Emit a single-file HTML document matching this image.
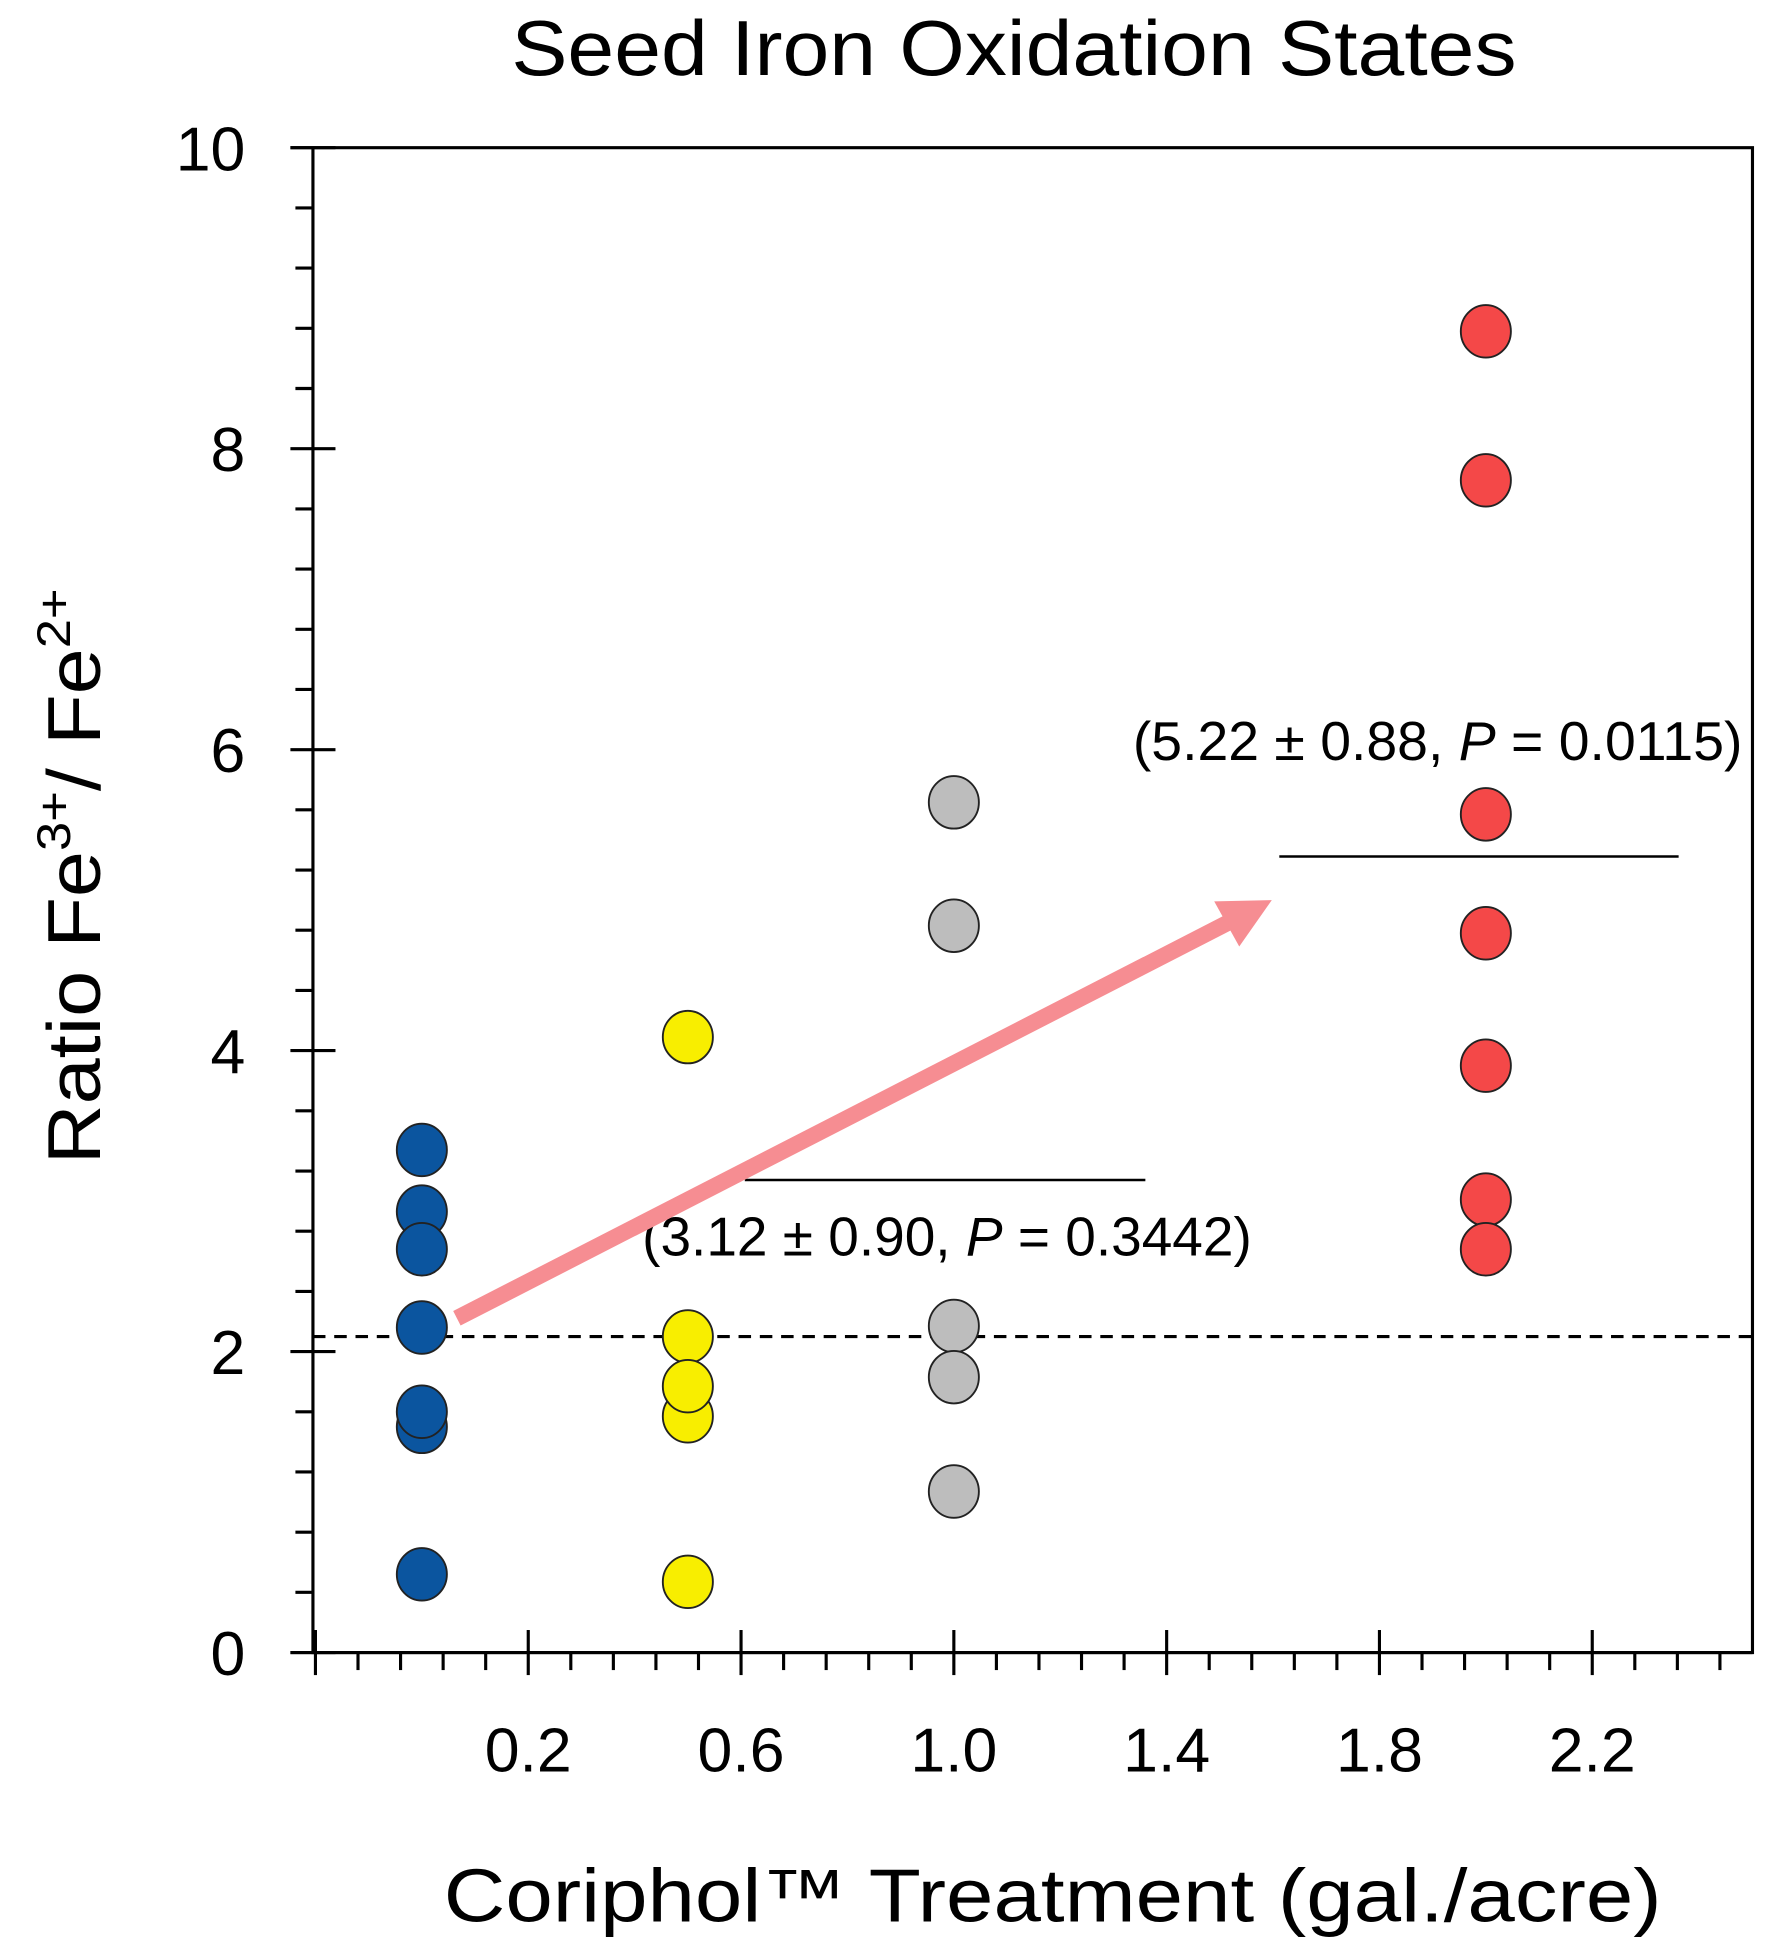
<!DOCTYPE html>
<html><head><meta charset="utf-8"><style>
html,body{margin:0;padding:0;background:#fff;}
svg{display:block;}
text{font-family:"Liberation Sans",sans-serif;fill:#000;}
</style></head><body>
<svg id="chart" width="1770" height="1943" viewBox="0 0 1414 1552" preserveAspectRatio="none" xmlns="http://www.w3.org/2000/svg">
<rect x="0" y="0" width="1414" height="1552" fill="#fff"/>
<text x="810" y="60" font-size="62" text-anchor="middle" textLength="803" lengthAdjust="spacingAndGlyphs">Seed Iron Oxidation States</text>
<g id="axes"></g>
<g id="marks"></g>
<text transform="translate(80,700) rotate(-90)" font-size="60" text-anchor="middle" textLength="460" lengthAdjust="spacingAndGlyphs">Ratio Fe<tspan font-size="38" dy="-24">3+</tspan><tspan dy="24">/ Fe</tspan><tspan font-size="38" dy="-24">2+</tspan></text>
<text x="841" y="1535" font-size="60" text-anchor="middle" textLength="973" lengthAdjust="spacingAndGlyphs">Coriphol™ Treatment (gal./acre)</text>
</svg>
<script>
const groups = ["Control", "0.5", "1.0", "2.0"];
const groupX = [0, 0.5, 1.0, 2.0];
const blueValues = [3.34, 2.93, 2.68, 2.16, 1.50, 1.60, 0.52];
const yellowValues = [4.09, 2.10, 1.57, 1.77, 0.47];
const grayValues = [5.65, 4.83, 2.17, 1.83, 1.07];
const redValues = [8.78, 7.79, 5.57, 4.78, 3.90, 3.01, 2.68];
const baselineValue = 2.10;
const meanLow = 3.14;
const meanHigh = 5.29;
const yTicks = [0, 2, 4, 6, 8, 10];
const xTickValues = [0.2, 0.6, 1.0, 1.4, 1.8, 2.2];
const xTickLabels = ["0.2", "0.6", "1.0", "1.4", "1.8", "2.2"];

const NS = "http://www.w3.org/2000/svg";
const X0 = 337, XS = 425, Y0 = 1320, YS = 120.2;
const L = 250, R = 1400, T = 118;
function sx(v){ return X0 + v * XS; }
function sy(v){ return Y0 - v * YS; }
function mk(tag, attrs, parent){
  const e = document.createElementNS(NS, tag);
  for (const k in attrs) e.setAttribute(k, attrs[k]);
  parent.appendChild(e);
  return e;
}
const axes = document.getElementById("axes");
const marks = document.getElementById("marks");

const frame = mk("path", {d:`M${L-18} ${T} H${R} V${Y0} H${L} V${T}`, fill:"none", stroke:"#000", "stroke-width":2.5}, axes);


const xline = mk("line", {x1:L-18, y1:Y0, x2:R, y2:Y0, stroke:"#000", "stroke-width":2.5}, axes);



for (let i = 0; i <= 25; i++) {
  const v = i * 0.4;
  const y = sy(v);
  const major = Math.abs(v - Math.round(v/2)*2) < 1e-6;
  const t = mk("line", {x1: L - (major ? 18 : 14), y1:y, x2: L + (major ? 18 : 0), y2:y, stroke:"#000", "stroke-width":2.5}, axes);
  
  
}
yTicks.forEach(v => {
  const t = mk("text", {x:196, y:sy(v)+18, "font-size":50, "text-anchor":"end"}, axes);
  t.textContent = String(v);
  
  
});
for (let i = 0; i <= 33; i++) {
  const v = -0.2 + i * 0.08;
  if (v > 2.47) break;
  const x = sx(v);
  const major = i % 5 === 0;
  const t = mk("line", {x1:x, y1: Y0 - (major ? 18 : 0), x2:x, y2: Y0 + (major ? 18 : 14), stroke:"#000", "stroke-width":2.5}, axes);
  
  
}
xTickValues.forEach((v, i) => {
  const t = mk("text", {x:sx(v), y:1415, "font-size":50, "text-anchor":"middle"}, axes);
  t.textContent = xTickLabels[i];
  
  
});

const dash = mk("line", {x1:L, y1:sy(baselineValue), x2:R, y2:sy(baselineValue), stroke:"#000", "stroke-width":2.5, "stroke-dasharray":"10 7"}, marks);



const m1 = mk("line", {x1:595, y1:sy(meanLow), x2:915, y2:sy(meanLow), stroke:"#000", "stroke-width":2}, marks);


const m2 = mk("line", {x1:1022, y1:sy(meanHigh), x2:1341, y2:sy(meanHigh), stroke:"#000", "stroke-width":2}, marks);



function annot(x, y, pre, post, len, name){
  const t = mk("text", {x:x, y:y, "font-size":44, textLength:len, lengthAdjust:"spacingAndGlyphs"}, marks);
  
  
  t.appendChild(document.createTextNode(pre));
  const it = mk("tspan", {"font-style":"italic"}, t);
  it.textContent = "P";
  t.appendChild(document.createTextNode(post));
}
annot(513, 1003, "(3.12 ± 0.90, ", " = 0.3442)", 487, "annotation-1");
annot(905, 607, "(5.22 ± 0.88, ", " = 0.0115)", 487, "annotation-2");

const arrow = mk("line", {x1:365, y1:1053, x2:985, y2:735, stroke:"#f68d92", "stroke-width":13}, marks);


const head = mk("polygon", {points:"1016,719 970,720 990,756", fill:"#f68d92"}, marks);



const series = [
  {vals: blueValues, x: groupX[0], fill:"#0b559f", name:"point-control"},
  {vals: yellowValues, x: groupX[1], fill:"#f8ee00", name:"point-0-5"},
  {vals: grayValues, x: groupX[2], fill:"#bdbdbd", name:"point-1-0"},
  {vals: redValues, x: groupX[3], fill:"#f44848", name:"point-2-0"}
];
series.forEach(s => {
  s.vals.forEach(v => {
    const c = mk("ellipse", {cx:sx(s.x), cy:sy(v), rx:20, ry:21, fill:s.fill, stroke:"#222", "stroke-width":1.5}, marks);
    
    
  });
});
</script>
</body></html>
